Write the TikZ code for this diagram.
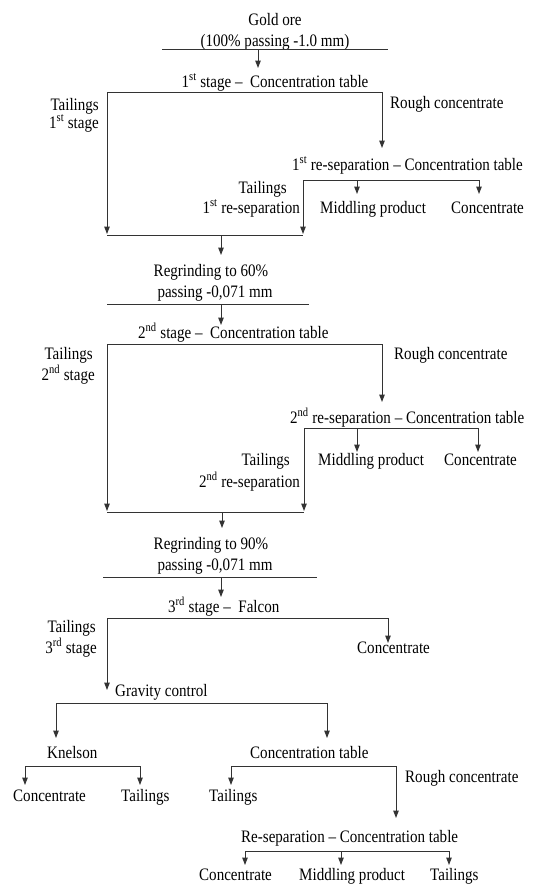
\documentclass[tikz,border=0pt]{standalone}
\usepackage{fontspec}
\setmainfont{Liberation Serif}
\usetikzlibrary{arrows.meta}

% narrow, tall lettering as in the scan
\newcommand\nar[1]{\scalebox{0.86}[1]{#1}}
\newcommand\supr[1]{\textsuperscript{#1}}

\tikzset{
    txt/.style={font=\fontsize{17.5}{21}\selectfont, inner sep=0pt, anchor=base},
    txtL/.style={txt, anchor=base west},
    txtR/.style={txt, anchor=base east},
    bar/.style={line width=1pt, draw=black!80},
    flow/.style={bar, -{Triangle[length=7.5pt, width=5.5pt]}}
}

\begin{document}
\begin{tikzpicture}[x=1pt, y=-1pt, line cap=butt, line join=miter]

    % ── Frame: 544 x 889 (pixel units, y downwards) ─────────────────────────
    \useasboundingbox (0,0) rectangle (544,889);

    % ── Feed ──────────────────────────────────────────────────────────────────
    \node[txt] (ore)   at (275,25) {\nar{Gold ore}};
    \node[txt] (oresz) at (275,46) {\nar{(100\% passing -1.0 mm)}};
    \coordinate (f0l) at (162,49.5);
    \coordinate (f0r) at (388,49.5);
    \coordinate (f0m) at (258,49.5);
    \coordinate (f0e) at (258,68);
    \draw[bar]  (f0l) -- (f0r);
    \draw[flow] (f0m) -- (f0e);

    % ── 1st stage ─────────────────────────────────────────────────────────────
    \node[txt] (st1) at (275,87)
        {\nar{1\supr{st} stage –\ \ Concentration table}};
    \coordinate (s1l) at (107,92);
    \coordinate (s1r) at (382,92);
    \coordinate (s1e) at (382,148);
    \draw[bar]  (s1l) -- (s1r);
    \draw[flow] (s1r) -- (s1e);
    \node[txtR] (tl1a) at (99,110) {\nar{Tailings}};
    \node[txtR] (tl1b) at (99,128) {\nar{1\supr{st} stage}};
    \node[txtL] (rc1)  at (390,108) {\nar{Rough concentrate}};

    % 1st re-separation
    \node[txtL] (rs1) at (292,170)
        {\nar{1\supr{st} re-separation – Concentration table}};
    \coordinate (r1l) at (303,180);
    \coordinate (r1m) at (357,180);
    \coordinate (r1r) at (479,180);
    \coordinate (r1me) at (357,194);
    \coordinate (r1re) at (479,194);
    \draw[bar]  (r1l) -- (r1r);
    \draw[flow] (r1m) -- (r1me);
    \draw[flow] (r1r) -- (r1re);
    \node[txtL] (mp1)  at (320,213) {\nar{Middling product}};
    \node[txtL] (cc1)  at (451,213) {\nar{Concentrate}};
    \node[txtR] (tr1a) at (287,193) {\nar{Tailings}};
    \node[txtR] (tr1b) at (300,213) {\nar{1\supr{st} re-separation}};

    % tailings join
    \coordinate (j1l) at (107,235);
    \coordinate (j1r) at (303,235);
    \coordinate (j1la) at (107,234);
    \coordinate (j1ra) at (303,234);
    \coordinate (j1m) at (221,235);
    \coordinate (j1e) at (221,255);
    \draw[flow] (s1l) -- (j1la);
    \draw[flow] (r1l) -- (j1ra);
    \draw[bar]  (j1l) -- (j1r);
    \draw[flow] (j1m) -- (j1e);

    % ── Regrinding 60% ────────────────────────────────────────────────────────
    \node[txt] (rg1a) at (211,276) {\nar{Regrinding to 60\%}};
    \node[txt] (rg1b) at (215,297) {\nar{passing -0,071 mm}};
    \coordinate (g1l) at (107,304);
    \coordinate (g1r) at (309,304);
    \coordinate (g1m) at (221,304);
    \coordinate (g1e) at (221,325);
    \draw[bar]  (g1l) -- (g1r);
    \draw[flow] (g1m) -- (g1e);

    % ── 2nd stage ─────────────────────────────────────────────────────────────
    \node[txtL] (st2) at (138,338)
        {\nar{2\supr{nd} stage –\ \ Concentration table}};
    \coordinate (s2l) at (107,344);
    \coordinate (s2r) at (382,344);
    \coordinate (s2e) at (382,402);
    \draw[bar]  (s2l) -- (s2r);
    \draw[flow] (s2r) -- (s2e);
    \node[txtR] (tl2a) at (93,359) {\nar{Tailings}};
    \node[txtR] (tl2b) at (95,380) {\nar{2\supr{nd} stage}};
    \node[txtL] (rc2)  at (394,359) {\nar{Rough concentrate}};

    % 2nd re-separation
    \node[txtL] (rs2) at (290,423)
        {\nar{2\supr{nd} re-separation – Concentration table}};
    \coordinate (r2l) at (304,428);
    \coordinate (r2m) at (357,428);
    \coordinate (r2r) at (478,428);
    \coordinate (r2me) at (357,452);
    \coordinate (r2re) at (478,452);
    \draw[bar]  (r2l) -- (r2r);
    \draw[flow] (r2m) -- (r2me);
    \draw[flow] (r2r) -- (r2re);
    \node[txtL] (mp2)  at (318,465) {\nar{Middling product}};
    \node[txtL] (cc2)  at (444,465) {\nar{Concentrate}};
    \node[txtR] (tr2a) at (290,465) {\nar{Tailings}};
    \node[txtR] (tr2b) at (300,487) {\nar{2\supr{nd} re-separation}};

    % tailings join
    \coordinate (j2l) at (107,512);
    \coordinate (j2r) at (304,512);
    \coordinate (j2la) at (107,511);
    \coordinate (j2ra) at (304,511);
    \coordinate (j2m) at (222,512);
    \coordinate (j2e) at (222,528);
    \draw[flow] (s2l) -- (j2la);
    \draw[flow] (r2l) -- (j2ra);
    \draw[bar]  (j2l) -- (j2r);
    \draw[flow] (j2m) -- (j2e);

    % ── Regrinding 90% ────────────────────────────────────────────────────────
    \node[txt] (rg2a) at (211,549) {\nar{Regrinding to 90\%}};
    \node[txt] (rg2b) at (215,570) {\nar{passing -0,071 mm}};
    \coordinate (g2l) at (103,577);
    \coordinate (g2r) at (317,577);
    \coordinate (g2m) at (221,577);
    \coordinate (g2e) at (221,597);
    \draw[bar]  (g2l) -- (g2r);
    \draw[flow] (g2m) -- (g2e);

    % ── 3rd stage (Falcon) ────────────────────────────────────────────────────
    \node[txtL] (st3) at (168,612) {\nar{3\supr{rd} stage –\ \ Falcon}};
    \coordinate (s3l) at (107,618);
    \coordinate (s3r) at (388,618);
    \coordinate (s3re) at (388,643);
    \coordinate (s3le) at (107,690);
    \draw[bar]  (s3l) -- (s3r);
    \draw[flow] (s3r) -- (s3re);
    \draw[flow] (s3l) -- (s3le);
    \node[txtL] (cc3)  at (357,653) {\nar{Concentrate}};
    \node[txtR] (tl3a) at (96,632) {\nar{Tailings}};
    \node[txtR] (tl3b) at (97,653) {\nar{3\supr{rd} stage}};

    % ── Gravity control ───────────────────────────────────────────────────────
    \node[txtL] (grav) at (115,696) {\nar{Gravity control}};
    \coordinate (gcl) at (56,703);
    \coordinate (gcr) at (327,703);
    \coordinate (gcle) at (56,738);
    \coordinate (gcre) at (327,738);
    \draw[bar]  (gcl) -- (gcr);
    \draw[flow] (gcl) -- (gcle);
    \draw[flow] (gcr) -- (gcre);

    % Knelson
    \node[txtL] (kn) at (47,758) {\nar{Knelson}};
    \coordinate (knl) at (25,766);
    \coordinate (knr) at (140,766);
    \coordinate (knle) at (25,785);
    \coordinate (knre) at (140,785);
    \draw[bar]  (knl) -- (knr);
    \draw[flow] (knl) -- (knle);
    \draw[flow] (knr) -- (knre);
    \node[txtL] (kncc) at (13,801) {\nar{Concentrate}};
    \node[txtL] (kntl) at (121,801) {\nar{Tailings}};

    % Concentration table
    \node[txtL] (ct) at (250,758) {\nar{Concentration table}};
    \coordinate (ctl) at (231,766);
    \coordinate (ctr) at (396,766);
    \coordinate (ctle) at (231,785);
    \coordinate (ctre) at (396,818);
    \draw[bar]  (ctl) -- (ctr);
    \draw[flow] (ctl) -- (ctle);
    \draw[flow] (ctr) -- (ctre);
    \node[txtL] (cttl) at (209,801) {\nar{Tailings}};
    \node[txtL] (ctrc) at (405,782) {\nar{Rough concentrate}};

    % Re-separation
    \node[txtL] (rs3) at (241,842) {\nar{Re-separation – Concentration table}};
    \coordinate (r3l) at (245,851);
    \coordinate (r3m) at (341,851);
    \coordinate (r3r) at (449,851);
    \coordinate (r3le) at (245,865);
    \coordinate (r3me) at (341,865);
    \coordinate (r3re) at (449,865);
    \draw[bar]  (r3l) -- (r3r);
    \draw[flow] (r3l) -- (r3le);
    \draw[flow] (r3m) -- (r3me);
    \draw[flow] (r3r) -- (r3re);
    \node[txtL] (cc4) at (199,880) {\nar{Concentrate}};
    \node[txtL] (mp4) at (299,880) {\nar{Middling product}};
    \node[txtL] (tl4) at (430,880) {\nar{Tailings}};

\end{tikzpicture}
\end{document}
